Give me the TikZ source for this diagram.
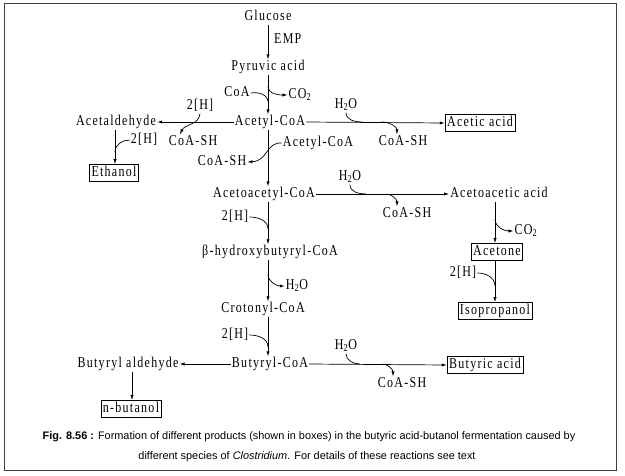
\documentclass[tikz,border=0pt]{standalone}
\usepackage{fontspec}
\setmainfont{Liberation Serif}
\newfontfamily\chemfont[FakeStretch=0.8,LetterSpace=8.5]{Liberation Serif}
\newfontfamily\capfont{Liberation Sans}
\usetikzlibrary{arrows.meta}

\tikzset{
  cmp/.style={inner sep=1pt, font=\chemfont\fontsize{15}{17}\selectfont, text height=10pt, text depth=3pt},
  prod/.style={cmp, draw, line width=0.7pt, inner sep=2pt},
  flow/.style={->, line width=0.7pt},
  hook/.style={line width=0.7pt}
}

\begin{document}
\begin{tikzpicture}[x=1pt, y=-1pt, >={Latex[length=5pt,width=3.2pt]}]
\useasboundingbox (0,0) rectangle (625,475);
\draw[line width=1pt, black!75] (4,3) rectangle (616,470);
% spines
\coordinate (sp) at (268,0);
\coordinate (sp2) at (115,0);
\coordinate (sp3) at (495,0);
\coordinate (sp4) at (132,0);
% compounds
\node[cmp] (glc) at (268,17) {Glucose};
\node[cmp, anchor=west] (emp) at (273,40) {EMP};
\node[cmp] (pyr) at (268,67) {Pyruvic acid};
\node[cmp] (coa) at (237,93) {CoA};
\node[cmp] (co2a) at (300,95) {CO\textsubscript{2}};
\node[cmp] (acc) at (270,122) {Acetyl-CoA};
\node[cmp] (acald) at (116,122) {Acetaldehyde};
\node[cmp] (h2a) at (200,106) {2[H]};
\node[cmp] (csa) at (193,142) {CoA-SH};
\node[cmp] (h2b) at (144,140) {2[H]};
\node[prod] (eth) at (114,173) {Ethanol};
\node[cmp] (acc2) at (318,143) {Acetyl-CoA};
\node[cmp] (csb) at (222,162) {CoA-SH};
\node[cmp] (wa) at (346,105) {H\textsubscript{2}O};
\node[cmp] (csc) at (403,142) {CoA-SH};
\node[prod] (acet) at (480,123) {Acetic acid};
\node[cmp] (aac) at (264,194) {Acetoacetyl-CoA};
\node[cmp] (wb) at (350,177) {H\textsubscript{2}O};
\node[cmp] (csd) at (407,214) {CoA-SH};
\node[cmp] (aacid) at (499,194) {Acetoacetic acid};
\node[cmp] (co2b) at (526,231) {CO\textsubscript{2}};
\node[prod] (acn) at (497,252) {Acetone};
\node[cmp] (h2c) at (463,273) {2[H]};
\node[prod] (ipa) at (495,311) {Isopropanol};
\node[cmp] (h2d) at (235,217) {2[H]};
\node[cmp] (hbc) at (270,252) {β-hydroxybutyryl-CoA};
\node[cmp] (wc) at (297,286) {H\textsubscript{2}O};
\node[cmp] (crc) at (263,309) {Crotonyl-CoA};
\node[cmp] (h2e) at (235,335) {2[H]};
\node[cmp] (buc) at (270,364) {Butyryl-CoA};
\node[cmp] (bald) at (128,364) {Butyryl aldehyde};
\node[prod] (but) at (131,409) {n-butanol};
\node[cmp] (wd) at (346,346) {H\textsubscript{2}O};
\node[cmp] (cse) at (402,384) {CoA-SH};
\node[prod] (bua) at (485,365) {Butyric acid};
% junctions on the lines
\coordinate (jA) at (268,102);
\coordinate (jB) at (268,86);
\coordinate (jC) at (115,152);
\coordinate (jD) at (362,122);
\coordinate (jE) at (382,122);
\coordinate (jF) at (366,194);
\coordinate (jG) at (386,194);
\coordinate (jH) at (495,219);
\coordinate (jI) at (495,286);
\coordinate (jJ) at (268,229);
\coordinate (jK) at (268,274);
\coordinate (jL) at (268,347);
\coordinate (jM) at (360,364);
\coordinate (jN) at (382,364);
% main chain
\draw[flow] (glc.south -| sp) -- (pyr.north -| sp);
\draw[flow] (pyr.south -| sp) -- (acc.north -| sp);
\draw[hook] (coa.east) to[out=10,in=90] (jA);
\draw[flow] (jB) to[out=-90,in=180] (co2a.west);
\draw[flow] (acc.south -| sp) -- (aac.north -| sp);
\draw[flow] (acc2.west) .. controls (266,142) and (268,161) .. (csb.east);
\draw[flow] (aac.south -| sp) -- (hbc.north -| sp);
\draw[hook] (h2d.east) to[out=0,in=90] (jJ);
\draw[flow] (hbc.south -| sp) -- (crc.north -| sp);
\draw[flow] (jK) to[out=-90,in=180] (wc.west);
\draw[flow] (crc.south -| sp) -- (buc.north -| sp);
\draw[hook] (h2e.east) to[out=0,in=90] (jL);
% ethanol branch
\draw[flow] (acc.west) -- (acald.east);
\draw[flow] (h2a.south) to[out=-95,in=65] ([xshift=-13pt]csa.north);
\draw[flow] (acald.south -| sp2) -- (eth.north -| sp2);
\draw[hook] (h2b.west) to[out=180,in=90] (jC);
% acetic acid
\draw[flow] (acc.east) -- (acet.west);
\draw[hook] (wa.south) to[out=-90,in=180] (jD);
\draw[flow] (jE) to[out=0,in=90] ([xshift=-6pt]csc.north);
% acetone branch
\draw[flow] (aac.east) -- (aacid.west);
\draw[hook] (wb.south) to[out=-90,in=180] (jF);
\draw[flow] (jG) to[out=0,in=90] ([xshift=-10pt]csd.north);
\draw[flow] (aacid.south -| sp3) -- (acn.north -| sp3);
\draw[flow] (jH) to[out=-90,in=180] (co2b.west);
\draw[flow] (acn.south -| sp3) -- (ipa.north -| sp3);
\draw[hook] (h2c.east) to[out=0,in=90] (jI);
% butanol and butyric acid
\draw[flow] (buc.west) -- (bald.east);
\draw[flow] (bald.south -| sp4) -- (but.north -| sp4);
\draw[flow] (buc.east) -- (bua.west);
\draw[hook] (wd.south) to[out=-90,in=180] (jM);
\draw[flow] (jN) to[out=0,in=90] ([xshift=-9pt]cse.north);
% caption
\node[font=\capfont\fontsize{10.9}{12}\selectfont] (cap1) at (309,437) {\textbf{Fig. 8.56 :} Formation of different products (shown in boxes) in the butyric acid-butanol fermentation caused by};
\node[font=\capfont\fontsize{10.9}{12}\selectfont] (cap2) at (307,457) {different species of \textit{Clostridium}. For details of these reactions see text};
\end{tikzpicture}
\end{document}
